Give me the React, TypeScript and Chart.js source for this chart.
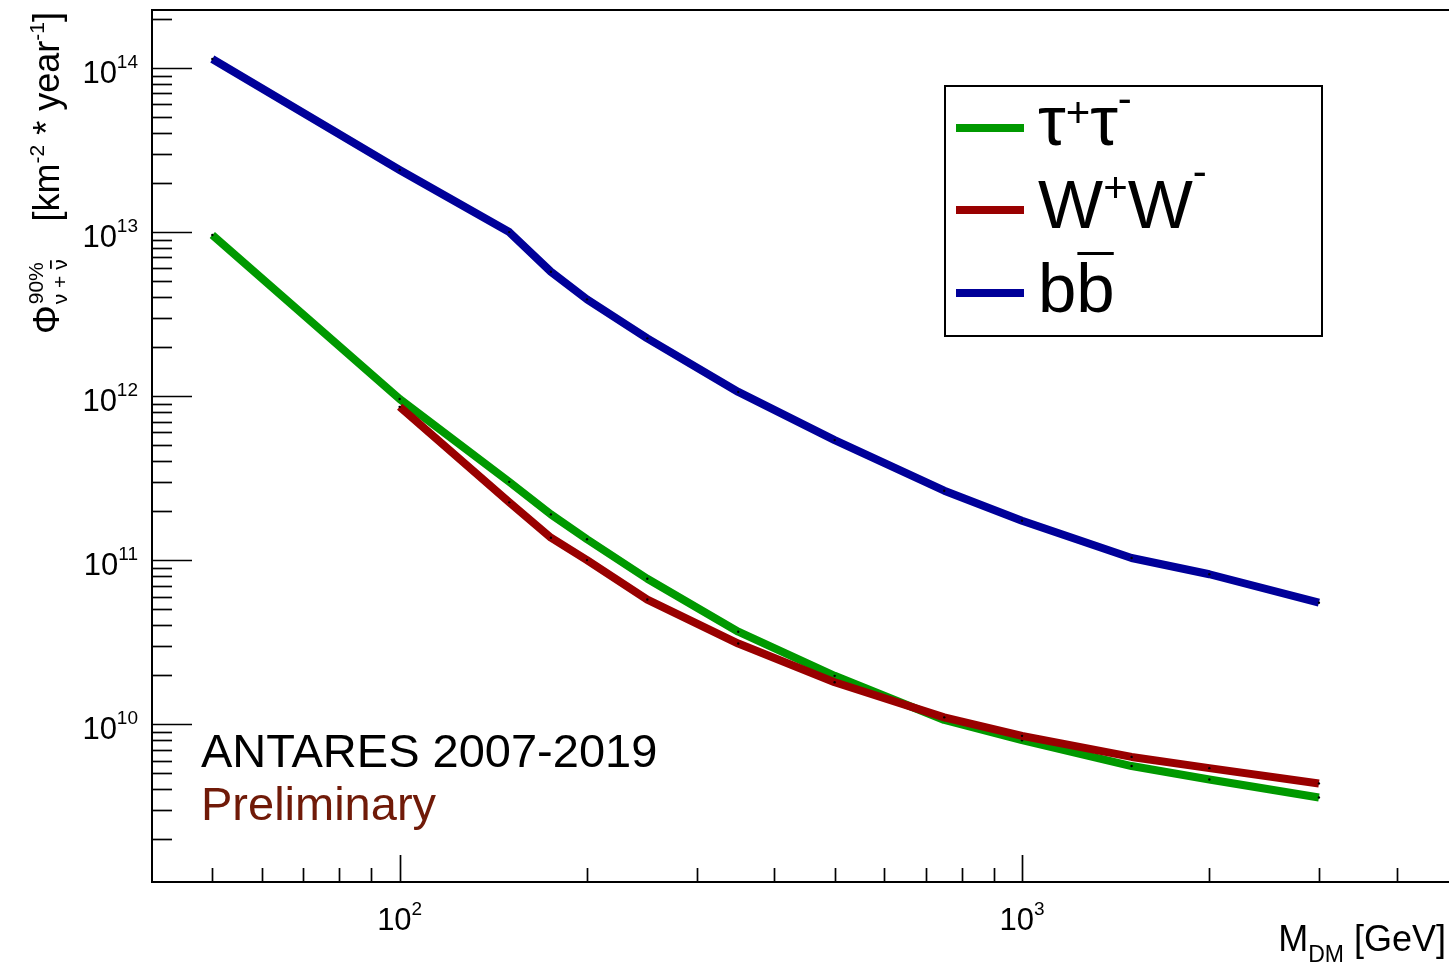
import React, { useEffect, useRef } from "react";
import { Chart, registerables } from "chart.js";

Chart.register(...registerables);

// ---- data ----
const massesTau = [50, 100, 150, 175, 200, 250, 350, 500, 750, 1000, 1500, 2000, 3000];
const fluxTau = [9.6e12, 9.6e11, 3.0e11, 1.9e11, 1.34e11, 7.7e10, 3.66e10, 1.97e10, 1.06e10, 7.98e9, 5.55e9, 4.6e9, 3.57e9];
const massesWW = [100, 150, 175, 200, 250, 350, 500, 750, 1000, 1500, 2000, 3000];
const fluxWW = [8.6e11, 2.25e11, 1.37e11, 1.0e11, 5.75e10, 3.1e10, 1.8e10, 1.1e10, 8.48e9, 6.31e9, 5.39e9, 4.35e9];
const massesBB = [50, 100, 150, 175, 200, 250, 350, 500, 750, 1000, 1500, 2000, 3000];
const fluxBB = [1.135e14, 2.39e13, 1.0e13, 5.73e12, 3.89e12, 2.25e12, 1.06e12, 5.39e11, 2.65e11, 1.74e11, 1.03e11, 8.2e10, 5.5e10];

const seriesLabels = ["τ+τ-", "W+W-", "bb̄"];
const seriesColors = ["#009900", "#990000", "#000099"];

const xMin = 40;
const xMax = 5000;
const yMin = 1.09e9;
const yMax = 2.26e14;
const xMajorExps = [2, 3];
const yMajorExps = [10, 11, 12, 13, 14];

const FONT = '"Liberation Sans", Arial, Helvetica, sans-serif';

type Seg = { t: string; size: number; dy?: number; color?: string };

function drawSegs(ctx: CanvasRenderingContext2D, segs: Seg[], x: number, y: number) {
  let cx = x;
  const pos: number[] = [];
  for (const s of segs) {
    ctx.font = `${s.size}px ${FONT}`;
    ctx.fillStyle = s.color || "#000";
    ctx.fillText(s.t, cx, y + (s.dy || 0));
    pos.push(cx);
    cx += ctx.measureText(s.t).width;
  }
  pos.push(cx);
  return pos;
}

function segsWidth(ctx: CanvasRenderingContext2D, segs: Seg[]) {
  let w = 0;
  for (const s of segs) {
    ctx.font = `${s.size}px ${FONT}`;
    w += ctx.measureText(s.t).width;
  }
  return w;
}

const rootPlugin = {
  id: "rootFrame",
  beforeDatasetsDraw(chart: any) {
    const ctx: CanvasRenderingContext2D = chart.ctx;
    const { left, right, top, bottom } = chart.chartArea;
    const xs = chart.scales.x;
    const ys = chart.scales.y;
    ctx.save();
    ctx.strokeStyle = "#000";
    ctx.lineWidth = 2;
    ctx.strokeRect(left, top, right - left, bottom - top);
    ctx.lineWidth = 1.7;
    // y ticks
    for (let e = 9; e <= 14; e++) {
      for (let k = 1; k <= 9; k++) {
        const v = k * Math.pow(10, e);
        if (v <= yMin || v >= yMax) continue;
        const p = Math.round(ys.getPixelForValue(v)) + 0.5;
        const len = k === 1 ? 40 : 20;
        ctx.beginPath();
        ctx.moveTo(left, p);
        ctx.lineTo(left + len, p);
        ctx.stroke();
      }
    }
    // x ticks
    for (let e = 1; e <= 3; e++) {
      for (let k = 1; k <= 9; k++) {
        const v = k * Math.pow(10, e);
        if (v <= xMin || v >= xMax) continue;
        const p = Math.round(xs.getPixelForValue(v)) + 0.5;
        const len = k === 1 ? 27 : 14;
        ctx.beginPath();
        ctx.moveTo(p, bottom);
        ctx.lineTo(p, bottom - len);
        ctx.stroke();
      }
    }
    ctx.restore();
  },
  afterDraw(chart: any) {
    const ctx: CanvasRenderingContext2D = chart.ctx;
    const { bottom } = chart.chartArea;
    const xs = chart.scales.x;
    const ys = chart.scales.y;
    ctx.save();
    ctx.textBaseline = "alphabetic";
    ctx.textAlign = "left";

    // y tick labels
    for (const e of yMajorExps) {
      const p = ys.getPixelForValue(Math.pow(10, e));
      const segs: Seg[] = [
        { t: "10", size: 31, dy: 15 },
        { t: String(e), size: 19, dy: 0 },
      ];
      const w = segsWidth(ctx, segs);
      drawSegs(ctx, segs, 138 - w, p);
    }
    // x tick labels
    for (const e of xMajorExps) {
      const p = xs.getPixelForValue(Math.pow(10, e));
      const segs: Seg[] = [
        { t: "10", size: 31, dy: 0 },
        { t: String(e), size: 19, dy: -15 },
      ];
      const w = segsWidth(ctx, segs);
      drawSegs(ctx, segs, p - w / 2, bottom + 48);
    }

    // x title
    {
      const segs: Seg[] = [
        { t: "M", size: 36 },
        { t: "DM", size: 23, dy: 11 },
        { t: " [GeV]", size: 36 },
      ];
      const w = segsWidth(ctx, segs);
      drawSegs(ctx, segs, 1446 - w, 951);
    }

    // y title (rotated)
    {
      ctx.save();
      ctx.translate(59, 334);
      ctx.rotate(-Math.PI / 2);
      ctx.font = `36px ${FONT}`;
      ctx.fillStyle = "#000";
      ctx.fillText("Φ", 0, 0);
      let u = ctx.measureText("Φ").width + 1;
      ctx.font = `21px ${FONT}`;
      ctx.fillText("90%", u, -16);
      const subTxt = "ν + ν";
      ctx.fillText(subTxt, u, 8);
      const wSub = ctx.measureText(subTxt).width;
      const wNu = ctx.measureText("ν").width;
      ctx.fillRect(u + wSub - wNu + 1, -9, wNu - 2, 1.8);
      u += Math.max(wSub, ctx.measureText("90%").width);
      const rest: Seg[] = [
        { t: "[km", size: 36 },
        { t: "-2", size: 21, dy: -15 },
        { t: " * year", size: 36 },
        { t: "-1", size: 21, dy: -15 },
        { t: "]", size: 36 },
      ];
      const wr = segsWidth(ctx, rest);
      drawSegs(ctx, rest, 334 - 12 - wr, 0);
      ctx.restore();
    }

    // legend
    {
      ctx.lineWidth = 2;
      ctx.strokeStyle = "#000";
      ctx.fillStyle = "#fff";
      ctx.fillRect(945, 86, 377, 250);
      ctx.strokeRect(945, 86, 377, 250);
      const rowsY = [128, 210, 293];
      const baseY = [145, 228, 312];
      const ds = chart.data.datasets;
      for (let i = 0; i < 3; i++) {
        const d = ds[i];
        ctx.strokeStyle = d.borderColor;
        ctx.lineWidth = 8;
        ctx.beginPath();
        ctx.moveTo(956, rowsY[i]);
        ctx.lineTo(1024, rowsY[i]);
        ctx.stroke();
      }
      // τ+τ-
      drawSegs(ctx, [
        { t: "τ", size: 70 },
        { t: "+", size: 42, dy: -18 },
        { t: "τ", size: 70 },
        { t: "-", size: 42, dy: -32 },
      ], 1038, baseY[0]);
      // W+W-
      drawSegs(ctx, [
        { t: "W", size: 69 },
        { t: "+", size: 42, dy: -26 },
        { t: "W", size: 69 },
        { t: "-", size: 42, dy: -42 },
      ], 1038, baseY[1]);
      // b bbar
      const pos = drawSegs(ctx, [
        { t: "b", size: 69 },
        { t: "b", size: 69 },
      ], 1038, baseY[2]);
      ctx.fillStyle = "#000";
      ctx.fillRect(pos[1] + 1, baseY[2] - 60, pos[2] - pos[1] - 2, 3);
    }

    // annotations
    ctx.font = `47px ${FONT}`;
    ctx.fillStyle = "#000";
    ctx.fillText("ANTARES 2007-2019", 201, 767);
    ctx.fillStyle = "#701a08";
    ctx.fillText("Preliminary", 201, 820);
    ctx.restore();
  },
};

export default function App() {
  const canvasRef = useRef<HTMLCanvasElement | null>(null);

  useEffect(() => {
    const canvas = canvasRef.current;
    if (!canvas) return;
    const mk = (xs: number[], ys: number[]) => xs.map((x, i) => ({ x, y: ys[i] }));
    const chart = new Chart(canvas, {
      type: "line",
      data: {
        datasets: [
          {
            label: seriesLabels[0],
            data: mk(massesTau, fluxTau),
            borderColor: seriesColors[0],
            borderWidth: 8,
            pointRadius: 1.2,
            pointBackgroundColor: "#000",
            pointBorderWidth: 0,
            tension: 0,
            fill: false,
            order: 3,
          },
          {
            label: seriesLabels[1],
            data: mk(massesWW, fluxWW),
            borderColor: seriesColors[1],
            borderWidth: 8,
            pointRadius: 1.2,
            pointBackgroundColor: "#000",
            pointBorderWidth: 0,
            tension: 0,
            fill: false,
            order: 2,
          },
          {
            label: seriesLabels[2],
            data: mk(massesBB, fluxBB),
            borderColor: seriesColors[2],
            borderWidth: 8,
            pointRadius: 1.2,
            pointBackgroundColor: "#000",
            pointBorderWidth: 0,
            tension: 0,
            fill: false,
            order: 1,
          },
        ],
      },
      options: {
        responsive: false,
        animation: false,
        events: [],
        layout: { padding: { left: 152, top: 10, right: 13, bottom: 82 } },
        elements: { line: { borderJoinStyle: "round" } },
        plugins: { legend: { display: false }, tooltip: { enabled: false } },
        scales: {
          x: { type: "logarithmic", min: xMin, max: xMax, display: false },
          y: { type: "logarithmic", min: yMin, max: yMax, display: false },
        },
      },
      plugins: [rootPlugin],
    } as any);
    return () => chart.destroy();
  }, []);

  return (
    <div style={{ position: "fixed", left: 0, top: 0, width: 1449, height: 964, overflow: "hidden", background: "#fff" }}>
      <canvas ref={canvasRef} width={1470} height={964} style={{ width: 1470, height: 964, display: "block" }} />
    </div>
  );
}
